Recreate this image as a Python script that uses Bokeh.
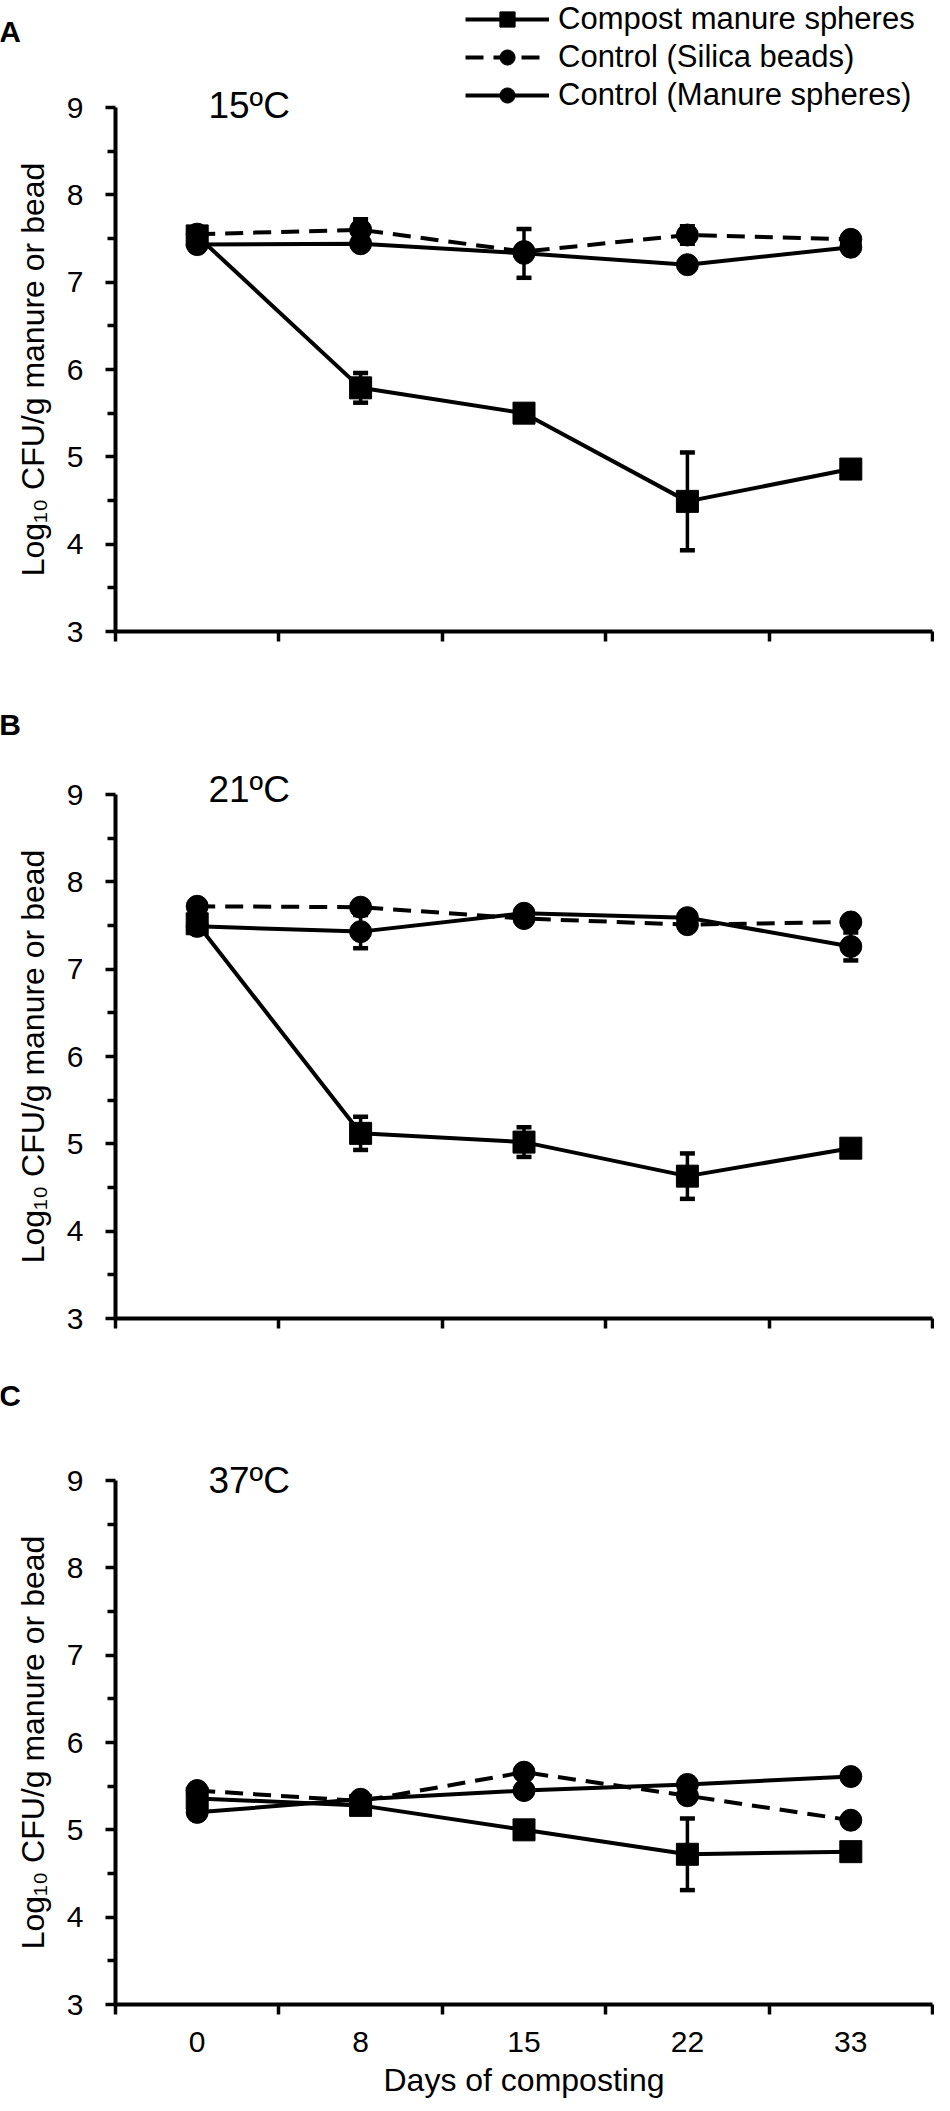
from bokeh.plotting import figure
from bokeh.layouts import column
from bokeh.models import (Range1d, FixedTicker, LinearAxis, Legend, LegendItem,
                          Whisker, TeeHead, ColumnDataSource, Label)
from bokeh.embed import file_html
from bokeh.resources import INLINE

# ---------------- data ----------------
days = ["0", "8", "15", "22", "33"]
y_ticks = [3, 4, 5, 6, 7, 8, 9]
y_minor = [3.5, 4.5, 5.5, 6.5, 7.5, 8.5]

panel_letters = ["A", "B", "C"]
temperatures = ["15ºC", "21ºC", "37ºC"]
series_names = ["Compost manure spheres", "Control (Silica beads)", "Control (Manure spheres)"]

# Panel A (15 ºC)
a_compost = [7.53, 5.79, 5.50, 4.49, 4.86]
a_compost_err = [0.06, 0.17, 0.06, 0.56, 0.05]
a_silica = [7.55, 7.60, 7.35, 7.54, 7.49]
a_silica_err = [0.03, 0.12, 0.05, 0.10, 0.07]
a_manure = [7.43, 7.44, 7.33, 7.20, 7.40]
a_manure_err = [0.04, 0.04, 0.28, 0.04, 0.04]

# Panel B (21 ºC)
b_compost = [7.52, 5.12, 5.02, 4.63, 4.95]
b_compost_err = [0.05, 0.19, 0.17, 0.26, 0.05]
b_silica = [7.72, 7.71, 7.58, 7.51, 7.54]
b_silica_err = [0.03, 0.03, 0.03, 0.03, 0.03]
b_manure = [7.49, 7.43, 7.64, 7.59, 7.26]
b_manure_err = [0.03, 0.19, 0.05, 0.03, 0.16]

# Panel C (37 ºC)
c_compost = [5.36, 5.28, 5.00, 4.72, 4.75]
c_compost_err = [0.03, 0.04, 0.04, 0.41, 0.04]
c_silica = [5.45, 5.33, 5.66, 5.39, 5.11]
c_silica_err = [0.03, 0.03, 0.03, 0.03, 0.03]
c_manure = [5.20, 5.35, 5.45, 5.52, 5.61]
c_manure_err = [0.03, 0.03, 0.05, 0.03, 0.03]

panels = [
    (a_compost, a_compost_err, a_silica, a_silica_err, a_manure, a_manure_err),
    (b_compost, b_compost_err, b_silica, b_silica_err, b_manure, b_manure_err),
    (c_compost, c_compost_err, c_silica, c_silica_err, c_manure, c_manure_err),
]

# ---------------- layout constants (pixels) ----------------
FONT = "Liberation Sans"
FIG_W = 934
AX_LEFT = 115            # from figure left to y axis
AX_W = 817               # plotting width (5 categories)
AX_H = 524               # y from 3 to 9
TOP = 107                # from figure top to y = 9
BOTTOMS = [56, 55, 99]   # below y = 3

xs = [i + 0.5 for i in range(len(days))]
bounds = list(range(len(days) + 1))
cat_px = AX_W / len(days)
unit_px = AX_H / (y_ticks[-1] - y_ticks[0])

letter_pos = [(-0.645, 9.87), (-0.645, 9.80), (-0.645, 9.97)]
temp_pos = [(0.818, 9.02), (0.818, 9.06), (0.818, 9.0)]


def make_panel(idx):
    comp, comp_e, sil, sil_e, man, man_e = panels[idx]
    last = idx == 2
    bottom = BOTTOMS[idx]
    height = TOP + AX_H + bottom
    x0 = -AX_LEFT / cat_px
    x1 = (FIG_W - AX_LEFT) / cat_px
    y0 = y_ticks[0] - bottom / unit_px
    y1 = y_ticks[-1] + TOP / unit_px
    p = figure(width=FIG_W, height=height,
               x_range=Range1d(x0, x1), y_range=Range1d(y0, y1),
               output_backend="svg", toolbar_location=None,
               x_axis_type=None, y_axis_type=None,
               min_border=0)
    p.outline_line_color = None
    p.grid.visible = False
    p.background_fill_color = "white"
    p.border_fill_color = "white"

    # y axis
    yax = LinearAxis(ticker=FixedTicker(ticks=y_ticks, minor_ticks=y_minor),
                     fixed_location=0, bounds=(y_ticks[0], y_ticks[-1]))
    yax.axis_line_width = 4
    yax.axis_line_color = "black"
    yax.major_tick_line_width = 3.5
    yax.major_tick_line_color = "black"
    yax.major_tick_in = 0
    yax.major_tick_out = 10
    yax.minor_tick_line_width = 3.5
    yax.minor_tick_line_color = "black"
    yax.minor_tick_in = 0
    yax.minor_tick_out = 8
    yax.major_label_text_font = FONT
    yax.major_label_text_font_size = "30px"
    yax.major_label_text_color = "black"
    yax.major_label_standoff = 22
    yax.axis_label = "Log₁₀ CFU/g manure or bead"
    yax.axis_label_text_font = FONT
    yax.axis_label_text_font_size = "32px"
    yax.axis_label_text_font_style = "normal"
    yax.axis_label_text_color = "black"
    yax.axis_label_standoff = 13
    p.add_layout(yax, "left")

    # x axis: ticks at category boundaries, labels at centres
    if last:
        xt = FixedTicker(ticks=xs, minor_ticks=bounds)
    else:
        xt = FixedTicker(ticks=[], minor_ticks=bounds)
    xax = LinearAxis(ticker=xt, fixed_location=y_ticks[0],
                     bounds=(bounds[0], bounds[-1]))
    xax.axis_line_width = 4
    xax.axis_line_color = "black"
    xax.major_tick_line_color = None
    xax.major_tick_in = 0
    xax.major_tick_out = 0
    xax.minor_tick_line_width = 3.5
    xax.minor_tick_line_color = "black"
    xax.minor_tick_in = 0
    xax.minor_tick_out = 10
    xax.major_label_text_font = FONT
    xax.major_label_text_font_size = "30px"
    xax.major_label_text_color = "black"
    if last:
        xax.major_label_overrides = {x: d for x, d in zip(xs, days)}
        xax.major_label_standoff = 17
        xax.axis_label = "Days of composting"
        xax.axis_label_text_font = FONT
        xax.axis_label_text_font_size = "32px"
        xax.axis_label_text_font_style = "normal"
        xax.axis_label_text_color = "black"
        xax.axis_label_standoff = 7
    p.add_layout(xax, "below")

    # series
    specs = [
        (comp, comp_e, "solid", "square"),
        (sil, sil_e, "18 10", "circle"),
        (man, man_e, "solid", "circle"),
    ]
    items = []
    for (vals, errs, dash, marker), name in zip(specs, series_names):
        src = ColumnDataSource(dict(
            x=xs, y=vals,
            upper=[v + e for v, e in zip(vals, errs)],
            lower=[v - e for v, e in zip(vals, errs)]))
        w = Whisker(source=src, base="x", upper="upper", lower="lower",
                    line_width=3.5, line_color="black",
                    upper_head=TeeHead(size=15, line_width=4.5, line_color="black"),
                    lower_head=TeeHead(size=15, line_width=4.5, line_color="black"))
        p.add_layout(w)
        lr = p.line("x", "y", source=src, line_width=4, line_color="black",
                    line_dash=dash)
        sr = p.scatter("x", "y", source=src, marker=marker, size=22,
                       fill_color="black", line_color="black")
        items.append(LegendItem(label=name, renderers=[lr, sr]))

    if idx == 0:
        # location gives the legend's bottom-left corner, measured from the
        # figure's bottom-left; 3 rows of 38 px starting at the figure top
        row_h = 38
        leg_bottom_from_top = 0 + 3 * row_h
        leg = Legend(items=items, location=(465, height - leg_bottom_from_top),
                     glyph_width=84, glyph_height=row_h, label_height=row_h,
                     spacing=0, padding=0, margin=0, label_standoff=9,
                     label_text_font=FONT, label_text_font_size="31px",
                     label_text_color="black",
                     border_line_color=None, background_fill_alpha=0)
        p.add_layout(leg, "center")

    lx, ly = letter_pos[idx]
    p.add_layout(Label(x=lx, y=ly, text=panel_letters[idx], text_font=FONT,
                       text_font_size="30px", text_font_style="bold",
                       text_align="center", text_baseline="middle",
                       text_color="black"))
    tx, ty = temp_pos[idx]
    p.add_layout(Label(x=tx, y=ty, text=temperatures[idx], text_font=FONT,
                       text_font_size="37px", text_align="center",
                       text_baseline="middle", text_color="black"))
    return p


plots = [make_panel(i) for i in range(3)]
layout = column(*plots, spacing=0)

open("out.html", "w").write(file_html(layout, INLINE))
